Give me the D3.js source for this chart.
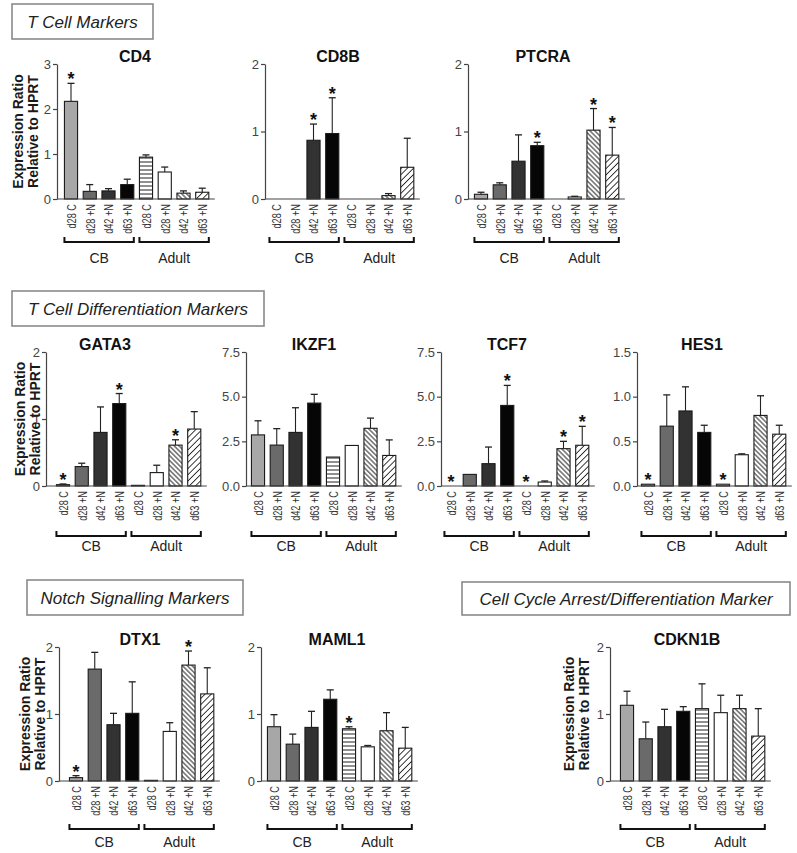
<!DOCTYPE html>
<html>
<head>
<meta charset="utf-8">
<script src="https://cdn.jsdelivr.net/npm/d3@7"></script>
<style>
  html, body { margin: 0; padding: 0; background: #fff; }
  svg text { font-family: "Liberation Sans", Arial, Helvetica, sans-serif; }
</style>
</head>
<body>
<svg id="chart" width="797" height="853"></svg>
<script>
// ---------------- DATA ----------------
const categories = ["d28 C", "d28 +N", "d42 +N", "d63 +N", "d28 C", "d28 +N", "d42 +N", "d63 +N"];
const groups = ["CB", "Adult"];
const yAxisTitle = ["Expression Ratio", "Relative to HPRT"];

// mean expression ratio, error (SEM) length, significant (*) bar indices
const cd4Mean   = [2.17, 0.17, 0.18, 0.32, 0.93, 0.60, 0.13, 0.15];
const cd4Err    = [0.40, 0.15, 0.05, 0.12, 0.05, 0.11, 0.05, 0.09];
const cd4Sig    = [0];

const cd8bMean  = [0, 0, 0.87, 0.97, 0, 0, 0.05, 0.47];
const cd8bErr   = [0, 0, 0.24, 0.53, 0, 0, 0.03, 0.43];
const cd8bSig   = [2, 3];

const ptcraMean = [0.07, 0.21, 0.56, 0.79, 0, 0.03, 1.02, 0.65];
const ptcraErr  = [0.03, 0.03, 0.39, 0.05, 0, 0.01, 0.32, 0.41];
const ptcraSig  = [3, 6, 7];

const gata3Mean = [0.02, 0.29, 0.80, 1.23, 0.01, 0.20, 0.61, 0.85];
const gata3Err  = [0.01, 0.05, 0.38, 0.15, 0, 0.11, 0.08, 0.26];
const gata3Sig  = [0, 3, 6];

const ikzf1Mean = [2.86, 2.29, 3.00, 4.64, 1.62, 2.27, 3.23, 1.71];
const ikzf1Err  = [0.79, 0.92, 1.38, 0.49, 0, 0, 0.57, 0.87];
const ikzf1Sig  = [];

const tcf7Mean  = [0, 0.65, 1.25, 4.51, 0, 0.22, 2.09, 2.28];
const tcf7Err   = [0, 0, 0.93, 1.12, 0, 0.06, 0.41, 1.06];
const tcf7Sig   = [0, 3, 4, 6, 7];

const hes1Mean  = [0.02, 0.67, 0.84, 0.60, 0.02, 0.35, 0.79, 0.58];
const hes1Err   = [0, 0.35, 0.27, 0.08, 0, 0.01, 0.22, 0.10];
const hes1Sig   = [0, 4];

const dtx1Mean  = [0.05, 1.67, 0.84, 1.01, 0.01, 0.74, 1.73, 1.30];
const dtx1Err   = [0.03, 0.25, 0.17, 0.47, 0, 0.13, 0.21, 0.39];
const dtx1Sig   = [0, 6];

const maml1Mean = [0.81, 0.55, 0.80, 1.22, 0.78, 0.51, 0.75, 0.49];
const maml1Err  = [0.18, 0.15, 0.24, 0.14, 0.03, 0.02, 0.27, 0.31];
const maml1Sig  = [4];

const cdkn1bMean = [1.13, 0.63, 0.81, 1.04, 1.08, 1.02, 1.08, 0.67];
const cdkn1bErr  = [0.21, 0.25, 0.26, 0.07, 0.37, 0.26, 0.20, 0.41];
const cdkn1bSig  = [];

const ticks2   = [0, 1, 2];
const ticks3   = [0, 1, 2, 3];
const ticks7_5 = [0, 2.5, 5.0, 7.5];
const ticks1_5 = [0, 0.5, 1.0, 1.5];

const sectionTitles = ["T Cell Markers", "T Cell Differentiation Markers", "Notch Signalling Markers", "Cell Cycle Arrest/Differentiation Marker"];

// ---------------- LAYOUT / STYLE ----------------
const rows = [
  { base: 199, top: 64,  bracket: 43, group: 64 },
  { base: 486, top: 352, bracket: 50, group: 65 },
  { base: 781, top: 647, bracket: 48, group: 66 }
];
const step = 18.75;
const fmtInt = d3.format("d"), fmt1 = d3.format(".1f");

const panels = [
  { title: "CD4",    mean: cd4Mean,    err: cd4Err,    sig: cd4Sig,    row: 0, ax: 57,  off: 14, ymax: 3,   ticks: ticks3,   fmt: fmtInt, tx: 135, yt: 18 },
  { title: "CD8B",   mean: cd8bMean,   err: cd8bErr,   sig: cd8bSig,   row: 0, ax: 265, off: 11, ymax: 2,   ticks: ticks2,   fmt: fmtInt, tx: 338 },
  { title: "PTCRA",  mean: ptcraMean,  err: ptcraErr,  sig: ptcraSig,  row: 0, ax: 468, off: 13, ymax: 2,   ticks: ticks2,   fmt: fmtInt, tx: 543 },
  { title: "GATA3",  mean: gata3Mean,  err: gata3Err,  sig: gata3Sig,  row: 1, ax: 46,  off: 17, ymax: 2,   ticks: ticks2,   fmt: fmtInt, tx: 105, yt: 20 },
  { title: "IKZF1",  mean: ikzf1Mean,  err: ikzf1Err,  sig: ikzf1Sig,  row: 1, ax: 246, off: 12, ymax: 7.5, ticks: ticks7_5, fmt: fmt1,   tx: 314 },
  { title: "TCF7",   mean: tcf7Mean,   err: tcf7Err,   sig: tcf7Sig,   row: 1, ax: 441, off: 10, ymax: 7.5, ticks: ticks7_5, fmt: fmt1,   tx: 507 },
  { title: "HES1",   mean: hes1Mean,   err: hes1Err,   sig: hes1Sig,   row: 1, ax: 637, off: 11, ymax: 1.5, ticks: ticks1_5, fmt: fmt1,   tx: 702 },
  { title: "DTX1",   mean: dtx1Mean,   err: dtx1Err,   sig: dtx1Sig,   row: 2, ax: 59,  off: 17, ymax: 2,   ticks: ticks2,   fmt: fmtInt, tx: 140, yt: 25 },
  { title: "MAML1",  mean: maml1Mean,  err: maml1Err,  sig: maml1Sig,  row: 2, ax: 261, off: 13, ymax: 2,   ticks: ticks2,   fmt: fmtInt, tx: 337 },
  { title: "CDKN1B", mean: cdkn1bMean, err: cdkn1bErr, sig: cdkn1bSig, row: 2, ax: 610, off: 17, ymax: 2,   ticks: ticks2,   fmt: fmtInt, tx: 687, yt: 569 }
];

const sectionBoxes = [
  { x: 12,  y: 4,   w: 141, h: 35 },
  { x: 12,  y: 291, w: 252, h: 35 },
  { x: 27,  y: 580, w: 216, h: 35 },
  { x: 462, y: 582, w: 328, h: 33 }
];

const barFills = ["#a7a7a7", "#6a6a6a", "#323232", "#060606", "url(#hstripe)", "#ffffff", "url(#diagBack)", "url(#diagFwd)"];

// ---------------- DRAW ----------------
const svg = d3.select("#chart");
const defs = svg.append("defs");

function stripePattern(id, size, rot, sw) {
  const p = defs.append("pattern").attr("id", id).attr("patternUnits", "userSpaceOnUse")
    .attr("width", size).attr("height", size);
  if (rot !== null) p.attr("patternTransform", `rotate(${rot})`);
  p.append("rect").attr("width", size).attr("height", size).attr("fill", "#fff");
  if (rot === null) {
    p.append("line").attr("x1", 0).attr("x2", size).attr("y1", size / 2).attr("y2", size / 2)
      .attr("stroke", "#222").attr("stroke-width", sw);
  } else {
    p.append("line").attr("x1", size / 2).attr("x2", size / 2).attr("y1", 0).attr("y2", size)
      .attr("stroke", "#222").attr("stroke-width", sw);
  }
}
stripePattern("hstripe", 4, null, 1);
stripePattern("diagBack", 3.4, -45, 1);
stripePattern("diagFwd", 4.4, 45, 0.9);

// section boxes
sectionBoxes.forEach((b, i) => {
  svg.append("rect").attr("x", b.x).attr("y", b.y).attr("width", b.w).attr("height", b.h)
    .attr("fill", "#fff").attr("stroke", "#8a8a8a").attr("stroke-width", 1.6);
  svg.append("text").attr("x", b.x + b.w / 2).attr("y", b.y + b.h / 2 + 6)
    .attr("text-anchor", "middle").attr("font-size", 17).attr("font-style", "italic")
    .attr("fill", "#222").text(sectionTitles[i]);
});

panels.forEach(p => {
  const r = rows[p.row];
  const first = p.ax + p.off;
  const x = d3.scaleBand().domain(d3.range(categories.length))
    .range([first - step / 2, first + (categories.length - 0.5) * step])
    .paddingInner(0.3).paddingOuter(0.15);
  const bw = x.bandwidth();
  const y = d3.scaleLinear().domain([0, p.ymax]).range([r.base, r.top]);
  const g = svg.append("g");

  // bars
  categories.forEach((c, i) => {
    const v = p.mean[i];
    if (v <= 0) return;
    g.append("rect").attr("x", x(i)).attr("y", y(v)).attr("width", bw)
      .attr("height", y(0) - y(v)).attr("fill", barFills[i])
      .attr("stroke", "#1a1a1a").attr("stroke-width", 1.1);
  });

  // error bars
  categories.forEach((c, i) => {
    const v = p.mean[i], e = p.err[i];
    if (v <= 0 || e <= 0) return;
    const cx = x(i) + bw / 2;
    g.append("line").attr("x1", cx).attr("x2", cx).attr("y1", y(v)).attr("y2", y(v + e))
      .attr("stroke", "#222").attr("stroke-width", 1.1);
    g.append("line").attr("x1", cx - 3.5).attr("x2", cx + 3.5).attr("y1", y(v + e)).attr("y2", y(v + e))
      .attr("stroke", "#222").attr("stroke-width", 1.3);
  });

  // significance stars
  p.sig.forEach(i => {
    const cx = x(i) + bw / 2;
    g.append("text").attr("x", cx).attr("y", y(p.mean[i] + p.err[i]) + 2)
      .attr("text-anchor", "middle").attr("font-size", 18).attr("font-weight", "bold")
      .attr("fill", "#111").text("*");
  });

  // y axis
  const yAxis = g.append("g").attr("transform", `translate(${p.ax},0)`)
    .call(d3.axisLeft(y).tickValues(p.ticks).tickFormat(p.fmt).tickSize(4).tickSizeOuter(0).tickPadding(2));
  yAxis.select(".domain").attr("stroke", "#444").attr("stroke-width", 1.2);
  yAxis.selectAll(".tick line").attr("stroke", "#444").attr("stroke-width", 1.2);
  yAxis.selectAll(".tick text").attr("font-size", 13).attr("fill", "#444")
    .style("font-family", '"Liberation Sans", Arial, sans-serif');

  // x baseline
  const xEnd = x(categories.length - 1) + bw + 6;
  g.append("line").attr("x1", p.ax).attr("x2", xEnd).attr("y1", y(0)).attr("y2", y(0))
    .attr("stroke", "#444").attr("stroke-width", 1.2);

  // category labels
  categories.forEach((c, i) => {
    const cx = x(i) + bw / 2;
    g.append("text")
      .attr("transform", `translate(${cx},${r.base + 5}) rotate(-90) scale(0.68,1)`)
      .attr("text-anchor", "end").attr("dy", "0.36em")
      .attr("font-size", 13.5).attr("fill", "#333").text(c);
  });

  // group brackets
  groups.forEach((gr, gi) => {
    const x0 = x(gi * 4), x1 = x(gi * 4 + 3) + bw;
    const by = r.base + r.bracket;
    g.append("path").attr("d", `M${x0},${by - 5}V${by}H${x1}V${by - 5}`)
      .attr("fill", "none").attr("stroke", "#111").attr("stroke-width", 2);
    g.append("text").attr("x", (x0 + x1) / 2).attr("y", r.base + r.group)
      .attr("text-anchor", "middle").attr("font-size", 14).attr("fill", "#222").text(gr);
  });

  // panel title
  g.append("text").attr("x", p.tx).attr("y", r.top - 2).attr("text-anchor", "middle")
    .attr("font-size", 16).attr("font-weight", "bold").attr("fill", "#111").text(p.title);

  // y axis title
  if (p.yt !== undefined) {
    const mid = (r.base + r.top) / 2;
    yAxisTitle.forEach((t, k) => {
      g.append("text")
        .attr("transform", `translate(${p.yt + k * 14.5},${mid}) rotate(-90)`)
        .attr("text-anchor", "middle").attr("dy", "0.36em")
        .attr("font-size", 14).attr("font-weight", "bold").attr("fill", "#1a1a1a").text(t);
    });
  }
});
</script>
</body>
</html>
